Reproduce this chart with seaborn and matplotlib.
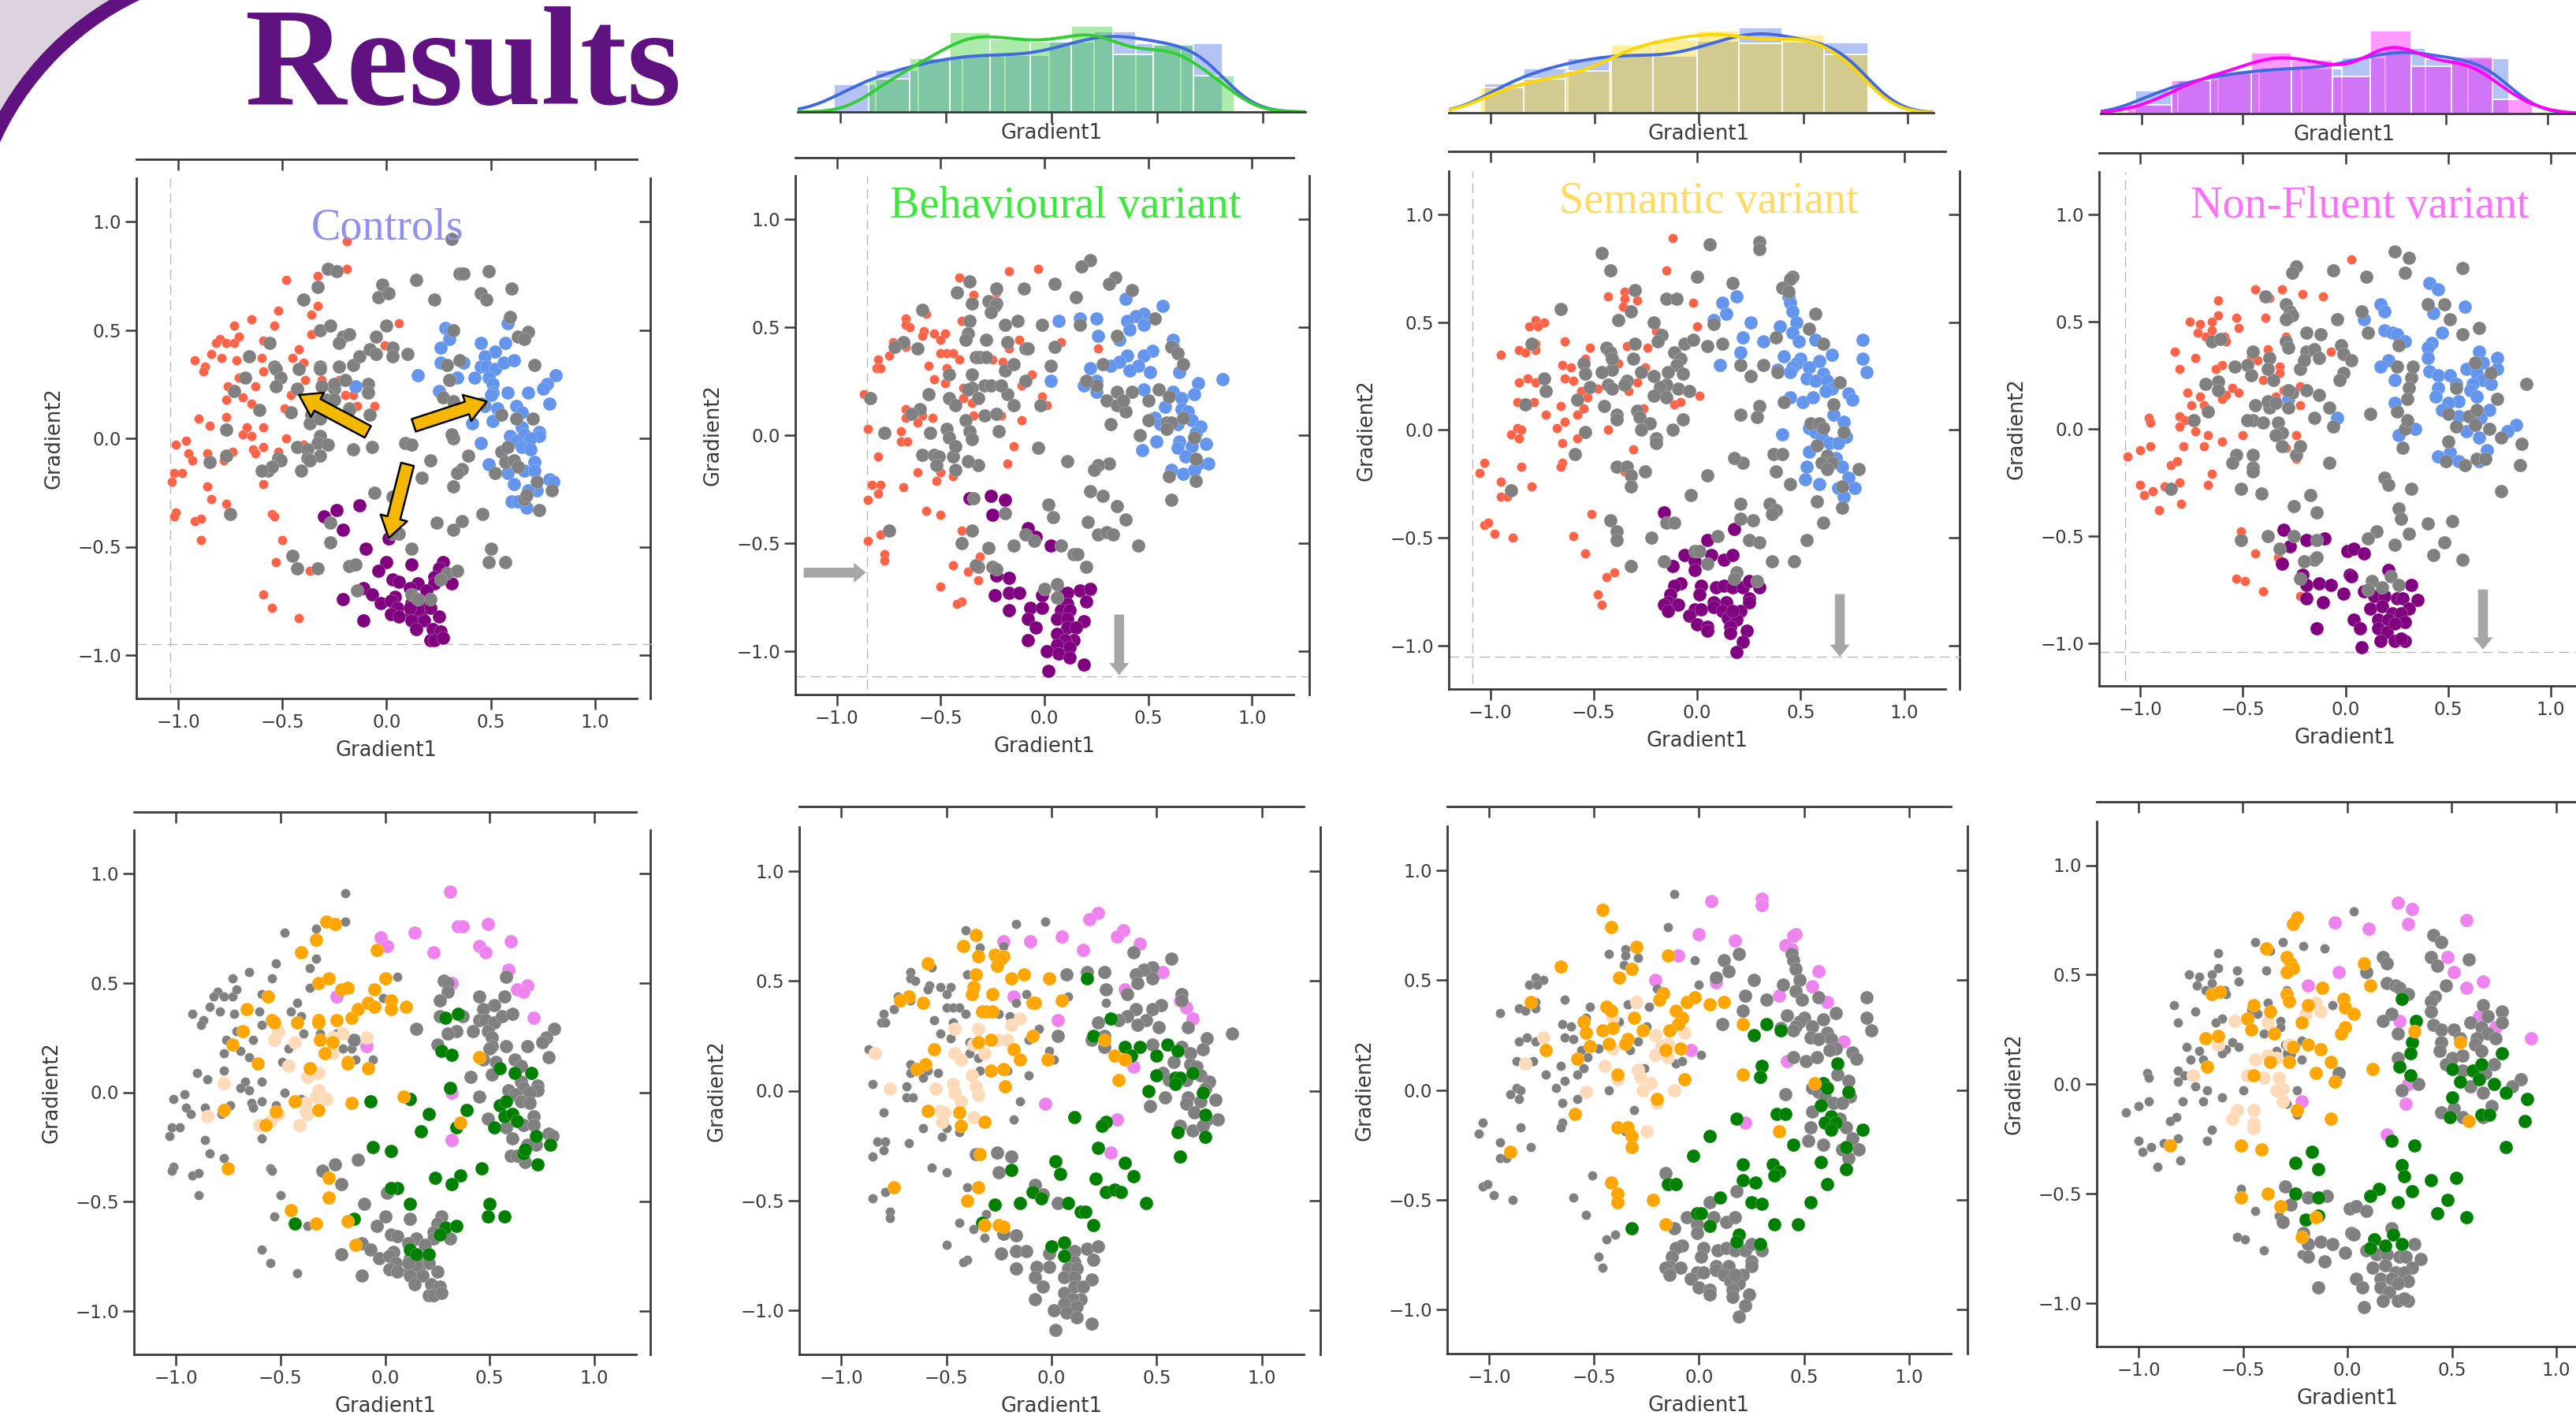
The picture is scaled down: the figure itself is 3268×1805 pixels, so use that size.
import numpy as np
import pandas as pd
import matplotlib
matplotlib.use('Agg')
import matplotlib.pyplot as plt
import seaborn as sns
from matplotlib.patches import Circle, Rectangle

# points, one list per cluster, per column
ctrl_tomato = [(-0.19,0.91),(-0.19,0.78),(-0.33,0.75),(-0.48,0.73),(-0.41,0.64),(-0.33,0.61),(-0.36,0.57),(-0.52,0.59),(-0.65,0.55),(-0.54,0.52),(-0.73,0.52),(0.06,0.53),(-0.36,0.48),(-0.80,0.46),(-0.82,0.44),(-0.77,0.44),(-0.73,0.44),(-0.71,0.47),(-0.59,0.45),(-0.42,0.41),(-0.01,0.43),(-0.84,0.39),(-0.79,0.37),(-0.72,0.36),(-0.92,0.36),(-0.87,0.33),(-0.88,0.31),(-0.60,0.37),(-0.45,0.37),(-0.40,0.35),(-0.59,0.31),(-0.71,0.28),(-0.39,0.27),(-0.31,0.27),(-0.23,0.27),(-0.76,0.24),(-0.63,0.24),(-0.46,0.20),(-0.77,0.18),(-0.69,0.19),(-0.65,0.16),(-0.20,0.20),(-0.16,0.20),(-0.06,0.15),(-0.49,0.14),(-0.14,0.15),(-0.77,0.10),(-0.90,0.09),(-0.85,0.06),(-0.67,0.05),(-0.59,0.05),(-0.69,0.02),(-0.65,0.01),(-0.48,0.00),(-1.01,-0.03),(-0.96,-0.01),(-0.95,-0.07),(-0.86,-0.07),(-0.74,-0.06),(-0.93,-0.10),(-0.78,-0.10),(-0.64,-0.05),(-0.59,-0.04),(-0.63,-0.07),(-0.52,-0.06),(-0.40,-0.03),(-1.02,-0.16),(-0.98,-0.16),(-1.03,-0.20),(-0.59,-0.21),(-0.86,-0.22),(-0.84,-0.28),(-0.77,-0.30),(-1.01,-0.34),(-1.02,-0.36),(-0.92,-0.38),(-0.89,-0.37),(-0.55,-0.35),(-0.54,-0.36),(-0.89,-0.47),(-0.50,-0.47),(-0.53,-0.57),(-0.37,-0.61),(-0.59,-0.72),(-0.55,-0.78),(-0.42,-0.83)]
ctrl_blue = [(0.28,0.51),(0.30,0.50),(0.30,0.46),(0.26,0.42),(0.26,0.35),(0.15,0.29),(0.58,0.53),(0.45,0.44),(0.57,0.44),(0.52,0.40),(0.47,0.38),(0.45,0.33),(0.48,0.33),(0.37,0.35),(0.52,0.32),(0.56,0.35),(0.61,0.36),(0.42,0.28),(0.34,0.28),(0.30,0.27),(0.49,0.28),(0.51,0.25),(0.51,0.21),(0.50,0.20),(0.58,0.21),(0.68,0.21),(0.25,0.22),(0.81,0.29),(0.77,0.25),(0.75,0.23),(0.78,0.16),(-0.15,0.24),(0.53,0.14),(0.62,0.15),(0.65,0.12),(0.47,0.15),(0.51,0.08),(0.41,0.07),(0.65,0.05),(0.59,0.01),(0.66,0.02),(0.73,0.03),(0.73,0.01),(0.62,-0.01),(0.69,0.00),(0.45,-0.02),(0.65,-0.04),(0.69,-0.05),(0.71,-0.11),(0.49,-0.12),(0.66,-0.15),(0.71,-0.15),(0.58,-0.16),(0.78,-0.19),(0.80,-0.20),(0.61,-0.21),(0.72,-0.24),(0.68,-0.24),(0.60,-0.29),(0.67,-0.32),(0.63,-0.29)]
ctrl_purple = [(-0.30,-0.36),(-0.24,-0.33),(-0.13,-0.31),(-0.21,-0.42),(0.01,-0.46),(-0.10,-0.51),(0.00,-0.57),(0.12,-0.58),(-0.04,-0.61),(0.27,-0.57),(0.25,-0.60),(0.23,-0.64),(0.31,-0.67),(0.23,-0.67),(0.03,-0.65),(0.06,-0.66),(0.15,-0.67),(-0.11,-0.69),(-0.07,-0.72),(-0.21,-0.74),(0.04,-0.73),(0.11,-0.69),(0.19,-0.70),(-0.03,-0.76),(0.02,-0.75),(0.05,-0.78),(0.12,-0.76),(0.17,-0.76),(0.21,-0.78),(0.02,-0.81),(0.06,-0.82),(0.12,-0.81),(0.16,-0.81),(0.25,-0.82),(-0.11,-0.84),(0.12,-0.84),(0.18,-0.84),(0.14,-0.88),(0.22,-0.88),(0.26,-0.89),(0.21,-0.93),(0.23,-0.93),(0.27,-0.92),(0.15,-0.79),(0.11,-0.78)]
ctrl_orange = [(-0.28,0.78),(-0.24,0.77),(-0.33,0.70),(-0.40,0.64),(-0.04,0.65),(-0.32,0.50),(-0.27,0.52),(-0.21,0.47),(-0.18,0.48),(-0.05,0.47),(0.00,0.52),(-0.56,0.44),(-0.66,0.38),(-0.54,0.33),(-0.53,0.32),(-0.42,0.32),(-0.32,0.33),(-0.32,0.32),(-0.23,0.33),(-0.16,0.34),(-0.13,0.38),(-0.08,0.41),(-0.05,0.39),(0.03,0.42),(0.03,0.38),(0.10,0.39),(-0.68,0.28),(-0.73,0.22),(-0.31,0.24),(-0.25,0.23),(-0.29,0.18),(-0.61,0.13),(-0.18,0.14),(-0.18,0.13),(-0.08,0.11),(-0.36,0.11),(0.45,0.16),(-0.43,-0.04),(-0.77,-0.08),(-0.52,-0.09),(-0.32,-0.08),(-0.16,-0.05),(0.09,-0.02),(-0.57,-0.15),(0.36,-0.14),(-0.75,-0.35),(-0.27,-0.39),(-0.27,-0.48),(-0.45,-0.54),(-0.33,-0.60),(-0.18,-0.59),(-0.14,-0.70)]
ctrl_peach = [(-0.51,0.28),(-0.53,0.24),(-0.43,0.23),(-0.46,0.12),(-0.37,0.07),(-0.32,0.09),(-0.25,0.25),(-0.20,0.27),(-0.09,0.25),(-0.77,0.04),(-0.85,-0.11),(-0.32,0.01),(-0.33,-0.02),(-0.28,-0.03),(-0.38,-0.05),(-0.38,-0.09),(-0.37,-0.10),(-0.51,-0.10),(-0.55,-0.13),(-0.60,-0.15),(-0.41,-0.15),(-0.25,0.18)]
ctrl_violet = [(0.31,0.92),(-0.02,0.71),(0.01,0.67),(0.14,0.73),(0.23,0.64),(0.35,0.76),(0.37,0.76),(0.49,0.77),(0.45,0.67),(0.48,0.64),(0.60,0.69),(0.59,0.56),(0.32,0.50),(0.68,0.49),(0.63,0.47),(0.66,0.46),(-0.23,0.44),(0.71,0.34),(-0.09,0.21),(0.32,0.00),(0.32,-0.22),(0.30,0.27)]
ctrl_green = [(0.35,0.36),(0.29,0.34),(0.27,0.19),(0.32,0.17),(0.55,0.11),(0.62,0.09),(0.70,0.09),(0.31,0.02),(0.39,-0.08),(0.12,-0.03),(-0.07,-0.04),(0.21,-0.10),(0.17,-0.18),(0.34,-0.16),(0.52,-0.16),(0.55,-0.06),(0.58,-0.04),(0.57,-0.11),(0.61,-0.10),(0.63,-0.13),(0.72,-0.20),(0.79,-0.24),(-0.06,-0.25),(0.03,-0.27),(0.66,-0.28),(0.67,-0.26),(0.73,-0.33),(0.46,-0.35),(0.24,-0.39),(0.36,-0.38),(0.32,-0.42),(0.06,-0.44),(0.03,-0.44),(0.12,-0.51),(0.50,-0.51),(0.49,-0.57),(0.57,-0.57),(-0.43,-0.60),(-0.15,-0.58),(0.29,-0.62),(0.34,-0.61),(0.26,-0.65),(0.12,-0.72),(0.15,-0.74),(0.21,-0.74)]

bv_tomato = [(-0.17,0.76),(-0.03,0.77),(-0.41,0.73),(-0.34,0.65),(-0.23,0.66),(-0.57,0.56),(-0.67,0.54),(-0.67,0.51),(-0.65,0.50),(-0.40,0.53),(-0.58,0.48),(-0.59,0.46),(-0.53,0.47),(-0.48,0.47),(-0.50,0.44),(-0.73,0.43),(-0.67,0.41),(-0.12,0.44),(0.08,0.43),(0.26,0.40),(-0.17,0.40),(-0.80,0.35),(-0.75,0.37),(-0.50,0.38),(-0.47,0.38),(-0.44,0.38),(-0.41,0.35),(-0.81,0.31),(-0.79,0.31),(-0.56,0.32),(-0.47,0.31),(-0.25,0.35),(-0.20,0.34),(-0.06,0.28),(-0.53,0.26),(-0.48,0.24),(-0.11,0.23),(-0.39,0.22),(-0.01,0.18),(-0.39,0.17),(-0.35,0.15),(0.01,0.14),(-0.87,0.19),(-0.67,0.12),(-0.67,0.08),(-0.59,0.09),(-0.61,0.06),(-0.54,0.08),(-0.34,0.09),(-0.21,0.09),(-0.11,0.07),(-0.85,0.03),(-0.69,0.02),(-0.69,-0.03),(-0.66,-0.03),(-0.15,-0.05),(-0.80,-0.10),(-0.61,-0.17),(-0.18,-0.13),(-0.50,-0.17),(-0.44,-0.19),(-0.52,-0.21),(-0.83,-0.23),(-0.79,-0.23),(-0.68,-0.24),(-0.80,-0.27),(-0.85,-0.30),(-0.57,-0.35),(-0.50,-0.37),(-0.40,-0.44),(-0.79,-0.46),(-0.85,-0.49),(-0.77,-0.55),(-0.77,-0.58),(-0.31,-0.56),(-0.44,-0.60),(-0.37,-0.63),(-0.32,-0.67),(-0.50,-0.70),(-0.40,-0.77),(-0.42,-0.78)]
bv_blue = [(0.39,0.63),(0.57,0.60),(0.07,0.53),(0.17,0.54),(0.25,0.54),(0.48,0.56),(0.44,0.55),(0.40,0.53),(0.48,0.51),(0.41,0.49),(0.26,0.46),(0.36,0.44),(0.62,0.44),(0.62,0.41),(0.40,0.37),(0.52,0.39),(0.48,0.37),(0.36,0.34),(0.32,0.32),(0.45,0.32),(0.41,0.30),(0.22,0.31),(0.51,0.29),(0.65,0.29),(0.86,0.26),(0.03,0.25),(0.25,0.25),(0.19,0.23),(0.25,0.20),(0.48,0.21),(0.74,0.24),(0.72,0.19),(0.62,0.20),(0.66,0.17),(0.58,0.13),(0.66,0.12),(0.69,0.11),(0.53,0.08),(0.56,0.05),(0.64,0.05),(0.71,0.07),(0.75,0.04),(0.73,0.01),(0.78,-0.04),(0.54,-0.03),(0.47,-0.07),(0.65,-0.03),(0.64,-0.06),(0.71,-0.05),(0.68,-0.10),(0.79,-0.13),(0.74,-0.13),(0.61,-0.16),(0.67,-0.18),(0.72,-0.16)]
bv_purple = [(-0.36,-0.29),(-0.26,-0.28),(-0.19,-0.30),(-0.25,-0.37),(-0.08,-0.43),(-0.04,-0.47),(0.03,-0.51),(-0.23,-0.65),(-0.17,-0.66),(-0.24,-0.74),(-0.17,-0.73),(-0.12,-0.73),(-0.01,-0.74),(-0.17,-0.81),(-0.07,-0.80),(-0.01,-0.80),(-0.08,-0.85),(-0.04,-0.89),(-0.08,-0.95),(0.08,-0.73),(0.11,-0.73),(0.17,-0.72),(0.22,-0.71),(0.20,-0.77),(0.11,-0.78),(0.08,-0.81),(0.12,-0.81),(0.06,-0.85),(0.19,-0.86),(0.11,-0.85),(0.11,-0.89),(0.15,-0.89),(0.06,-0.92),(0.14,-0.95),(0.10,-0.95),(0.06,-0.97),(0.12,-0.98),(0.01,-1.00),(0.07,-1.01),(0.12,-1.03),(0.19,-1.06),(0.02,-1.09)]
bv_orange = [(-0.36,0.71),(-0.42,0.66),(-0.27,0.62),(-0.23,0.61),(-0.24,0.60),(-0.26,0.57),(-0.35,0.61),(-0.36,0.53),(-0.19,0.51),(-0.13,0.53),(-0.01,0.51),(-0.37,0.47),(-0.38,0.44),(-0.28,0.44),(-0.59,0.58),(-0.68,0.43),(-0.72,0.41),(-0.61,0.40),(0.05,0.41),(-0.09,0.40),(-0.08,0.40),(-0.33,0.36),(-0.31,0.36),(-0.28,0.36),(-0.09,0.25),(-0.35,0.22),(-0.29,0.23),(-0.56,0.19),(-0.18,0.19),(-0.15,0.14),(-0.02,0.14),(-0.60,0.12),(-0.64,0.10),(-0.29,0.09),(-0.23,0.10),(-0.22,0.02),(0.25,0.23),(0.30,0.16),(0.35,0.14),(0.32,0.05),(-0.59,-0.09),(-0.44,-0.10),(-0.43,-0.16),(-0.32,-0.14),(-0.34,-0.29),(-0.75,-0.44),(-0.35,-0.44),(-0.40,-0.50),(-0.32,-0.61),(-0.25,-0.61),(-0.23,-0.62)]
bv_peach = [(-0.46,0.28),(-0.35,0.28),(-0.19,0.30),(-0.15,0.33),(-0.26,0.23),(-0.21,0.23),(-0.37,0.21),(-0.32,0.17),(-0.84,0.17),(-0.46,0.17),(-0.43,0.14),(-0.38,0.07),(-0.36,0.02),(-0.77,0.01),(-0.55,0.01),(-0.47,0.03),(-0.46,-0.01),(-0.35,-0.02),(-0.43,-0.05),(-0.53,-0.09),(-0.51,-0.10),(-0.52,-0.14),(-0.37,-0.12)]
bv_violet = [(0.22,0.81),(0.18,0.78),(-0.23,0.68),(-0.10,0.68),(0.05,0.70),(0.15,0.64),(0.34,0.73),(0.31,0.70),(0.42,0.67),(0.53,0.54),(0.35,0.46),(0.61,0.41),(0.64,0.38),(0.67,0.33),(-0.18,0.43),(0.03,0.32),(0.39,0.11),(-0.03,-0.06),(0.31,-0.13),(0.28,-0.28)]
bv_green = [(0.17,0.51),(0.28,0.33),(0.20,0.25),(0.35,0.20),(0.42,0.20),(0.38,0.16),(0.55,0.21),(0.60,0.18),(0.50,0.16),(0.67,0.08),(0.50,0.07),(0.59,0.06),(0.61,0.06),(0.59,0.03),(0.46,0.00),(0.72,-0.01),(0.11,-0.12),(0.26,-0.14),(0.24,-0.16),(0.73,-0.11),(0.60,-0.19),(0.73,-0.21),(0.22,-0.26),(0.61,-0.30),(0.02,-0.32),(0.04,-0.38),(-0.19,-0.36),(0.35,-0.33),(0.21,-0.40),(0.39,-0.39),(-0.09,-0.46),(-0.05,-0.49),(-0.15,-0.51),(0.08,-0.51),(0.26,-0.46),(0.30,-0.45),(0.33,-0.46),(0.45,-0.51),(-0.27,-0.52),(0.14,-0.55),(0.16,-0.55),(-0.33,-0.60),(0.20,-0.61),(0.00,-0.71),(0.06,-0.69),(0.06,-0.75)]

sv_tomato = [(-0.12,0.89),(-0.15,0.74),(-0.35,0.64),(-0.43,0.62),(-0.35,0.61),(-0.29,0.60),(-0.36,0.57),(-0.02,0.59),(-0.78,0.51),(-0.74,0.50),(-0.81,0.48),(-0.77,0.48),(0.00,0.48),(-0.20,0.46),(-0.64,0.41),(-0.78,0.40),(-0.52,0.38),(-0.34,0.39),(-0.24,0.38),(-0.86,0.37),(-0.83,0.36),(-0.78,0.37),(-0.95,0.35),(-0.54,0.33),(-0.38,0.31),(-0.25,0.29),(-0.65,0.30),(-0.61,0.29),(-0.82,0.24),(-0.64,0.24),(-0.60,0.23),(-0.86,0.22),(-0.78,0.22),(-0.29,0.22),(-0.33,0.18),(-0.48,0.19),(-0.56,0.18),(-0.53,0.15),(0.01,0.16),(-0.87,0.13),(-0.79,0.13),(-0.66,0.11),(-0.55,0.10),(-0.11,0.12),(-0.08,0.13),(-0.26,0.10),(-0.73,0.07),(-0.58,0.07),(-0.64,0.04),(-0.87,0.01),(-0.85,0.00),(-0.68,0.01),(-0.90,-0.02),(-0.43,0.00),(-0.86,-0.04),(-0.65,-0.06),(-0.58,-0.04),(-0.31,-0.09),(-1.03,-0.15),(-0.65,-0.15),(-0.85,-0.17),(-0.66,-0.17),(-1.05,-0.20),(-0.95,-0.24),(-0.80,-0.26),(-0.35,-0.19),(-0.95,-0.31),(-0.92,-0.31),(-0.51,-0.39),(-1.03,-0.44),(-1.01,-0.43),(-0.98,-0.48),(-0.89,-0.50),(-0.60,-0.49),(-0.54,-0.57),(-0.40,-0.66),(-0.44,-0.68),(-0.48,-0.76),(-0.46,-0.81)]
sv_blue = [(0.44,0.62),(0.19,0.62),(0.45,0.59),(0.12,0.59),(0.14,0.54),(0.46,0.55),(0.08,0.51),(0.26,0.50),(0.48,0.50),(0.40,0.48),(0.46,0.45),(0.22,0.43),(0.32,0.41),(0.49,0.41),(0.57,0.42),(0.80,0.42),(0.21,0.36),(0.42,0.34),(0.65,0.35),(0.80,0.33),(0.11,0.30),(0.50,0.33),(0.48,0.31),(0.59,0.32),(0.46,0.29),(0.45,0.27),(0.39,0.28),(0.54,0.29),(0.82,0.27),(0.61,0.26),(0.53,0.24),(0.57,0.23),(0.63,0.23),(0.65,0.19),(0.62,0.18),(-0.18,0.20),(0.45,0.15),(0.51,0.13),(0.56,0.15),(0.73,0.17),(0.75,0.14),(0.66,0.07),(0.71,0.04),(0.54,0.01),(0.41,-0.02),(0.57,-0.01),(0.60,-0.03),(0.64,-0.06),(0.72,-0.03),(0.68,-0.06),(0.54,-0.10),(0.67,-0.13),(0.70,-0.17),(0.53,-0.17),(0.52,-0.23),(0.73,-0.22),(0.59,-0.25),(0.68,-0.27),(0.76,-0.27),(0.71,-0.31)]
sv_purple = [(-0.16,-0.38),(0.18,-0.46),(0.05,-0.51),(-0.06,-0.58),(-0.01,-0.61),(0.07,-0.58),(0.13,-0.60),(0.17,-0.58),(-0.12,-0.63),(-0.01,-0.65),(-0.08,-0.71),(-0.11,-0.72),(0.02,-0.72),(0.09,-0.73),(0.13,-0.72),(0.17,-0.73),(0.22,-0.73),(0.25,-0.70),(0.30,-0.73),(-0.13,-0.76),(0.01,-0.76),(-0.14,-0.80),(0.08,-0.80),(0.25,-0.78),(0.14,-0.80),(0.25,-0.80),(-0.16,-0.81),(-0.09,-0.81),(-0.14,-0.84),(-0.01,-0.83),(0.02,-0.83),(0.08,-0.82),(0.12,-0.84),(0.21,-0.84),(-0.04,-0.86),(0.15,-0.87),(0.19,-0.88),(0.16,-0.91),(0.00,-0.90),(0.05,-0.91),(0.05,-0.93),(0.24,-0.93),(0.16,-0.94),(0.22,-0.98),(0.19,-1.03),(0.17,-0.84)]
sv_orange = [(-0.46,0.82),(-0.42,0.74),(-0.30,0.65),(-0.15,0.61),(-0.66,0.56),(-0.32,0.55),(-0.38,0.51),(-0.17,0.44),(-0.19,0.41),(-0.80,0.40),(-0.44,0.38),(-0.42,0.36),(-0.31,0.33),(-0.06,0.40),(-0.02,0.42),(0.05,0.39),(0.12,0.40),(-0.11,0.36),(-0.08,0.33),(-0.10,0.30),(-0.14,0.27),(-0.27,0.27),(-0.41,0.28),(-0.46,0.27),(-0.55,0.31),(-0.54,0.26),(0.21,0.30),(-0.52,0.20),(-0.43,0.21),(-0.34,0.23),(-0.35,0.21),(-0.16,0.18),(-0.09,0.19),(-0.73,0.18),(-0.58,0.14),(-0.39,0.07),(-0.07,0.05),(0.21,0.07),(0.55,0.03),(-0.20,-0.04),(-0.59,-0.11),(-0.39,-0.17),(-0.34,-0.17),(-0.32,-0.21),(0.38,-0.19),(-0.32,-0.26),(-0.90,-0.28),(-0.42,-0.42),(-0.39,-0.47),(-0.39,-0.51),(-0.22,-0.50),(-0.16,-0.61)]
sv_peach = [(-0.30,0.40),(-0.41,0.33),(-0.74,0.24),(-0.07,0.26),(-0.21,0.25),(-0.15,0.21),(-0.18,0.20),(-0.41,0.19),(-0.21,0.16),(-0.15,0.15),(-0.83,0.12),(-0.45,0.11),(-0.29,0.09),(-0.28,0.06),(-0.39,0.05),(-0.23,0.03),(-0.27,0.00),(-0.12,0.00),(-0.54,-0.01),(-0.25,-0.19),(-0.20,-0.06)]
sv_violet = [(0.30,0.87),(0.30,0.84),(0.06,0.86),(0.00,0.71),(0.17,0.68),(0.46,0.71),(0.45,0.70),(0.41,0.66),(0.44,0.64),(-0.10,0.61),(0.57,0.54),(-0.21,0.50),(0.08,0.49),(0.54,0.47),(0.38,0.43),(0.61,0.40),(-0.04,0.18),(0.69,0.22),(0.42,0.13),(0.22,-0.15)]
sv_green = [(0.32,0.30),(0.39,0.27),(0.26,0.25),(0.66,0.12),(0.30,0.11),(0.29,0.06),(0.59,0.03),(0.61,0.01),(0.71,-0.01),(0.58,-0.07),(0.18,-0.13),(0.37,-0.11),(0.41,-0.11),(0.63,-0.12),(0.60,-0.15),(0.65,-0.15),(0.63,-0.18),(0.78,-0.18),(0.05,-0.21),(0.45,-0.25),(0.70,-0.26),(-0.03,-0.30),(0.58,-0.33),(0.21,-0.34),(0.35,-0.34),(0.38,-0.37),(0.36,-0.39),(0.70,-0.36),(-0.15,-0.43),(-0.11,-0.43),(0.21,-0.41),(0.27,-0.42),(0.61,-0.43),(0.10,-0.49),(0.53,-0.51),(0.25,-0.51),(0.30,-0.52),(-0.01,-0.56),(0.01,-0.56),(0.05,-0.62),(0.36,-0.61),(0.47,-0.61),(-0.32,-0.63),(0.19,-0.66),(0.18,-0.69),(0.29,-0.70)]

nf_tomato = [(0.03,0.79),(-0.44,0.65),(-0.31,0.65),(-0.21,0.63),(-0.11,0.62),(-0.62,0.60),(-0.37,0.61),(-0.62,0.53),(-0.76,0.50),(-0.71,0.49),(-0.65,0.50),(-0.53,0.52),(-0.39,0.52),(-0.52,0.47),(-0.72,0.45),(-0.65,0.46),(-0.68,0.43),(-0.59,0.43),(-0.58,0.41),(-0.29,0.43),(-0.83,0.36),(-0.73,0.33),(-0.38,0.37),(-0.07,0.36),(-0.46,0.34),(-0.43,0.32),(-0.60,0.30),(-0.63,0.28),(-0.32,0.29),(-0.32,0.26),(-0.81,0.28),(-0.40,0.23),(-0.55,0.19),(-0.52,0.17),(-0.58,0.16),(-0.22,0.20),(-0.30,0.18),(-0.77,0.17),(-0.71,0.15),(-0.60,0.14),(-0.75,0.11),(-0.69,0.11),(-0.34,0.15),(-0.22,0.11),(-0.96,0.05),(-0.81,0.06),(-0.78,0.04),(-0.95,0.03),(-0.81,0.01),(-0.73,-0.01),(-0.67,-0.03),(-0.50,-0.03),(-0.24,-0.03),(-0.79,-0.08),(-0.69,-0.08),(-0.60,-0.06),(-0.95,-0.08),(-1.00,-0.10),(-1.06,-0.13),(-0.29,-0.09),(-0.24,-0.14),(-0.85,-0.17),(-0.82,-0.15),(-0.65,-0.21),(-0.67,-0.26),(-1.00,-0.26),(-0.81,-0.25),(-0.88,-0.27),(-0.94,-0.29),(-0.98,-0.31),(-0.80,-0.35),(-0.91,-0.38),(-0.51,-0.48),(-0.44,-0.58),(-0.33,-0.60),(-0.53,-0.70),(-0.49,-0.71),(-0.40,-0.76),(-0.22,-0.78)]
nf_blue = [(0.41,0.68),(0.45,0.65),(0.17,0.58),(0.19,0.55),(0.40,0.58),(0.43,0.54),(0.58,0.57),(0.09,0.51),(0.19,0.46),(0.23,0.45),(0.25,0.44),(0.29,0.41),(0.47,0.45),(0.42,0.40),(0.40,0.38),(0.65,0.36),(0.40,0.33),(0.67,0.31),(0.74,0.33),(0.21,0.32),(0.17,0.29),(0.41,0.27),(0.59,0.28),(0.45,0.25),(0.51,0.25),(0.74,0.28),(0.64,0.26),(0.24,0.23),(0.67,0.23),(0.54,0.21),(0.71,0.21),(0.62,0.21),(0.45,0.19),(0.61,0.18),(0.44,0.15),(0.64,0.15),(0.24,0.12),(0.55,0.13),(0.50,0.12),(0.47,0.09),(0.70,0.09),(-0.28,0.14),(-0.04,0.05),(0.55,0.06),(0.66,0.05),(0.83,0.02),(0.79,-0.01),(0.59,-0.01),(0.65,-0.04),(0.34,0.00),(0.26,-0.03),(0.69,-0.10),(0.51,-0.11),(0.45,-0.13),(0.55,-0.15),(0.65,-0.15)]
nf_purple = [(-0.30,-0.47),(-0.10,-0.51),(-0.19,-0.52),(-0.27,-0.55),(0.01,-0.57),(0.04,-0.56),(0.09,-0.58),(-0.31,-0.63),(-0.21,-0.68),(-0.19,-0.73),(-0.13,-0.72),(-0.07,-0.73),(0.02,-0.68),(0.03,-0.69),(0.21,-0.66),(-0.01,-0.77),(-0.19,-0.79),(-0.11,-0.81),(0.32,-0.73),(0.09,-0.76),(0.14,-0.78),(0.19,-0.78),(0.25,-0.79),(0.28,-0.79),(0.35,-0.80),(0.12,-0.84),(0.18,-0.83),(0.31,-0.84),(0.23,-0.86),(0.27,-0.86),(0.04,-0.89),(0.07,-0.93),(-0.14,-0.93),(0.16,-0.89),(0.21,-0.89),(0.29,-0.90),(0.16,-0.93),(0.20,-0.95),(0.24,-0.91),(0.08,-1.02),(0.17,-0.99),(0.24,-0.99),(0.29,-0.99),(0.27,-0.98)]
nf_orange = [(-0.24,0.76),(-0.26,0.73),(-0.39,0.62),(-0.29,0.58),(-0.27,0.55),(-0.26,0.53),(-0.29,0.51),(0.08,0.55),(0.11,0.45),(-0.12,0.44),(-0.65,0.41),(-0.61,0.42),(-0.29,0.41),(-0.28,0.38),(-0.02,0.39),(-0.01,0.35),(0.03,0.32),(-0.45,0.36),(-0.19,0.36),(-0.37,0.33),(-0.48,0.30),(-0.46,0.25),(-0.22,0.28),(-0.35,0.23),(-0.01,0.26),(-0.03,0.23),(0.32,0.24),(0.54,0.19),(-0.68,0.21),(-0.62,0.22),(-0.26,0.17),(-0.19,0.18),(-0.13,0.16),(-0.37,0.10),(-0.28,0.10),(-0.08,0.10),(-0.67,0.08),(0.12,0.07),(-0.45,0.04),(-0.15,0.05),(-0.06,0.01),(-0.24,-0.12),(-0.08,-0.16),(0.58,-0.17),(-0.85,-0.28),(-0.51,-0.28),(-0.41,-0.30),(-0.51,-0.52),(-0.38,-0.50),(-0.32,-0.56),(-0.15,-0.61),(-0.22,-0.70)]
nf_peach = [(-0.54,0.29),(-0.38,0.28),(-0.15,0.37),(-0.13,0.33),(-0.20,0.32),(-0.62,0.18),(-0.28,0.18),(-0.38,0.13),(-0.34,0.12),(-0.44,0.11),(-0.48,0.04),(-0.40,0.03),(-0.33,0.03),(-0.31,-0.02),(-0.74,0.04),(-0.34,-0.03),(-0.31,-0.08),(-0.53,-0.12),(-0.55,-0.16),(-0.45,-0.12),(-0.45,-0.18),(-0.45,-0.20)]
nf_violet = [(0.24,0.83),(0.31,0.80),(-0.06,0.74),(0.10,0.71),(0.29,0.73),(0.57,0.75),(0.40,0.58),(0.48,0.58),(0.51,0.51),(-0.04,0.51),(-0.19,0.45),(0.57,0.44),(0.65,0.47),(0.63,0.31),(0.25,0.29),(0.71,0.26),(0.88,0.21),(0.29,0.00),(0.28,-0.09),(-0.22,-0.08),(0.19,-0.23)]
nf_green = [(0.26,0.39),(0.33,0.29),(0.31,0.19),(0.30,0.14),(0.74,0.14),(0.25,0.08),(0.50,0.07),(0.60,0.06),(0.64,0.09),(0.30,0.04),(0.54,0.01),(0.63,0.02),(0.70,0.00),(0.50,-0.06),(0.76,-0.04),(0.86,-0.07),(0.49,-0.15),(0.64,-0.14),(0.68,-0.14),(0.85,-0.17),(0.21,-0.26),(0.32,-0.28),(0.76,-0.29),(-0.17,-0.31),(-0.25,-0.36),(-0.14,-0.39),(0.26,-0.37),(0.27,-0.42),(0.40,-0.44),(0.52,-0.43),(0.15,-0.48),(-0.25,-0.50),(0.11,-0.51),(0.31,-0.49),(-0.14,-0.52),(0.48,-0.53),(0.24,-0.54),(0.43,-0.59),(0.57,-0.61),(-0.20,-0.62),(-0.14,-0.60),(0.13,-0.71),(0.22,-0.69),(0.18,-0.74),(0.26,-0.73),(0.11,-0.75)]

# histograms above the three patient columns
bv_ctrl_edges = [-1.03,-0.83,-0.63,-0.42,-0.22,-0.01,0.20,0.40,0.61,0.81]
bv_ctrl_counts = [105,160,203,220,215,267,307,260,260]
bv_edges = [-0.865,-0.67,-0.48,-0.29,-0.10,0.095,0.29,0.48,0.67,0.865]
bv_counts = [127,203,303,275,267,327,218,255,137]
sv_ctrl_edges = [-1.03,-0.84,-0.63,-0.43,-0.22,-0.01,0.19,0.40,0.60,0.81]
sv_ctrl_counts = [112,168,208,225,217,272,323,270,267]
sv_edges = [-1.05,-0.84,-0.64,-0.42,-0.22,-0.01,0.19,0.40,0.60,0.81]
sv_counts = [97,130,160,258,280,312,265,298,223]
nf_ctrl_edges = [-1.03,-0.82,-0.62,-0.42,-0.21,-0.01,0.20,0.40,0.61,0.81]
nf_ctrl_counts = [87,130,154,174,170,214,250,208,209]
nf_edges = [-1.07,-0.85,-0.66,-0.46,-0.26,-0.06,0.13,0.33,0.53,0.73,0.93]
nf_counts = [34,127,157,232,205,140,314,180,217,54]

ticks = [-1.0, -0.5, 0.0, 0.5, 1.0]
titles = ['Controls', 'Behavioural variant', 'Semantic variant', 'Non-Fluent variant']
title_colors = ['#9090f0', '#3ce83c', '#ffdb66', '#ff70ff']

W, H = 3268, 1805
DARK = '#3a3a3a'
BIG, SMALL = 150, 75

sns.set_theme(style='ticks', rc={
    'axes.edgecolor': DARK, 'axes.linewidth': 2.0, 'axes.labelcolor': DARK,
    'xtick.color': DARK, 'ytick.color': DARK, 'text.color': DARK,
    'xtick.major.size': 10, 'ytick.major.size': 10,
    'xtick.major.width': 1.8, 'ytick.major.width': 1.8,
    'xtick.labelsize': 16.5, 'ytick.labelsize': 16.5, 'axes.labelsize': 18.5})
plt.rcParams['font.family'] = ['DejaVu Sans']

fig = plt.figure(figsize=(W / 100, H / 100), dpi=100, facecolor='white')


def box(left, right, top, bottom):
    return [left / W, 1 - bottom / H, (right - left) / W, (bottom - top) / H]


# corner swoosh of the slide, kept to the top left corner
deco = fig.add_axes([0, 0, 1, 1], zorder=-1)
deco.set_xlim(0, W)
deco.set_ylim(H, 0)
deco.axis('off')
corner = Rectangle((0, 0), 230, 230, color='#dcd3de', lw=0)
deco.add_patch(corner)
swoosh = Circle((336, 333), 378, fc='white', ec='#5f1280', lw=13)
deco.add_patch(swoosh)
swoosh.set_clip_path(corner)
deco.text(588, 132, 'Results', family='Liberation Serif', weight='bold', fontsize=128,
          color='#5f1280', ha='center', va='baseline')


def scatter(ax, pts, color, size, z):
    df = pd.DataFrame(pts, columns=['x', 'y'])
    sns.scatterplot(data=df, x='x', y='y', color=color, s=size, edgecolor='white',
                    linewidth=0.15, ax=ax, zorder=z)


def panel(pos):
    ax = fig.add_axes(box(*pos))
    ax.set_xlim(-1.2, 1.2)
    ax.set_ylim(-1.2, 1.2)
    sns.despine(ax=ax)
    ax.patch.set_visible(False)
    return ax


def finish(ax, pos, spine_top, spine_right):
    left, right, top, bottom = pos
    ax.set_xticks(ticks)
    ax.set_yticks(ticks)
    ax.set_xlabel('Gradient1', labelpad=8)
    ax.set_ylabel('Gradient2', labelpad=12)
    # offset top and right axes, ticks pointing inwards
    sx = ax.secondary_xaxis(1 + (top - spine_top) / (bottom - top))
    sx.set_xticks(ticks)
    sx.tick_params(direction='in', labeltop=False)
    sy = ax.secondary_yaxis(1 + (spine_right - right) / (right - left))
    sy.set_yticks(ticks)
    sy.tick_params(direction='in', labelright=False)


columns = [
    dict(tomato=ctrl_tomato, blue=ctrl_blue, purple=ctrl_purple, orange=ctrl_orange,
         peach=ctrl_peach, violet=ctrl_violet, green=ctrl_green,
         top=(173, 808, 226, 886), top_sp=(202, 825), low=(170, 807, 1053, 1718), low_sp=(1030, 825),
         vline=-1.038, hline=-0.95, title_xy=(492, 290)),
    dict(tomato=bv_tomato, blue=bv_blue, purple=bv_purple, orange=bv_orange,
         peach=bv_peach, violet=bv_violet, green=bv_green,
         top=(1009, 1641, 223, 881), top_sp=(200, 1661), low=(1014, 1654, 1049, 1718), low_sp=(1023, 1675),
         vline=-0.854, hline=-1.115, title_xy=(1352, 262)),
    dict(tomato=sv_tomato, blue=sv_blue, purple=sv_purple, orange=sv_orange,
         peach=sv_peach, violet=sv_violet, green=sv_green,
         top=(1838, 2468, 217, 874), top_sp=(192, 2486), low=(1836, 2475, 1048, 1717), low_sp=(1023, 2496),
         vline=-1.086, hline=-1.05, title_xy=(2168, 256)),
    dict(tomato=nf_tomato, blue=nf_blue, purple=nf_purple, orange=nf_orange,
         peach=nf_peach, violet=nf_violet, green=nf_green,
         top=(2663, 3288, 218, 870), top_sp=(194, 3310), low=(2660, 3296, 1042, 1708), low_sp=(1017, 3318),
         vline=-1.075, hline=-1.04, title_xy=(2994, 262)),
]

top_axes = []
for i, col in enumerate(columns):
    gray_big = col['orange'] + col['peach'] + col['violet'] + col['green']
    # top row: networks
    ax = panel(col['top'])
    top_axes.append(ax)
    scatter(ax, col['tomato'], 'tomato', SMALL, 2)
    scatter(ax, col['blue'], 'cornflowerblue', BIG, 2)
    scatter(ax, col['purple'], 'purple', BIG, 2)
    scatter(ax, gray_big, 'gray', BIG, 3)
    ax.axvline(col['vline'], ymin=0.01, ymax=1.0, color='#b8b8b8', lw=1.0, ls=(0, (9, 5)), zorder=1)
    ax.axhline(col['hline'], xmin=0, xmax=1.03, color='#b8b8b8', lw=1.0, ls=(0, (9, 5)), zorder=1, clip_on=False)
    finish(ax, col['top'], *col['top_sp'])
    fig.text(col['title_xy'][0] / W, 1 - col['title_xy'][1] / H, titles[i], family='Liberation Serif',
             fontsize=40.5, color=title_colors[i], ha='center', va='center', zorder=5)

    # bottom row: same points, other colouring
    ax = panel(col['low'])
    scatter(ax, col['violet'], 'violet', BIG, 2)
    scatter(ax, col['tomato'], 'gray', SMALL, 3)
    scatter(ax, col['blue'] + col['purple'], 'gray', BIG, 3)
    scatter(ax, col['peach'], 'peachpuff', BIG, 4)
    scatter(ax, col['green'], 'green', BIG, 5)
    scatter(ax, col['orange'], 'orange', BIG, 6)
    finish(ax, col['low'], *col['low_sp'])

# annotation arrows on the top row
for tail, tip in [((-0.09, 0.03), (-0.42, 0.20)), ((0.13, 0.06), (0.48, 0.17)), ((0.10, -0.12), (0.01, -0.46))]:
    top_axes[0].annotate('', xy=tip, xytext=tail, zorder=8,
                         arrowprops=dict(width=12, headwidth=25, headlength=19, fc='#f5b800', ec='black', lw=1.8, shrink=0))

gray_arrows = [
    (1, (-1.16, -0.636), (-0.86, -0.636)),
    (1, (0.36, -0.83), (0.36, -1.11)),
    (2, (0.69, -0.76), (0.69, -1.05)),
    (3, (0.67, -0.75), (0.67, -1.03)),
]
for i, tail, tip in gray_arrows:
    top_axes[i].annotate('', xy=tip, xytext=tail, zorder=8,
                         arrowprops=dict(width=9, headwidth=18, headlength=11, fc='#a6a6a6', ec='none', shrink=0))

# histograms
hists = [
    ((1012, 1656, 10, 142), (-1.2, 1.2), bv_ctrl_edges, bv_ctrl_counts, bv_edges, bv_counts, 'limegreen'),
    ((1838, 2453, 11, 143), (-1.2, 1.125), sv_ctrl_edges, sv_ctrl_counts, sv_edges, sv_counts, 'gold'),
    ((2665, 3283, 12, 144), (-1.2, 1.2), nf_ctrl_edges, nf_ctrl_counts, nf_edges, nf_counts, 'fuchsia'),
]
for pos, xlim, ctrl_edges, ctrl_counts, edges, counts, color in hists:
    ax = fig.add_axes(box(*pos))
    ax.patch.set_visible(False)
    for e, c, clr in [(ctrl_edges, ctrl_counts, 'royalblue'), (edges, counts, color)]:
        centers = [(a + b) / 2 for a, b in zip(e[:-1], e[1:])]
        sns.histplot(x=centers, weights=c, bins=e, kde=True, color=clr, edgecolor='white', linewidth=1.2,
                     alpha=0.4, ax=ax, line_kws=dict(linewidth=2.8),
                     kde_kws=dict(bw_adjust=0.42, gridsize=400, cut=4))
    ax.set_xlim(*xlim)
    ax.set_ylim(0, 396)
    ax.set_xticks(ticks)
    ax.tick_params(labelbottom=False)
    ax.set_yticks([])
    ax.set_ylabel('')
    # label sits under the zero tick
    ax.set_xlabel('Gradient1', labelpad=0, x=-xlim[0] / (xlim[1] - xlim[0]))
    sns.despine(ax=ax, left=True)

fig.savefig('out.png', dpi=100, facecolor='white')
